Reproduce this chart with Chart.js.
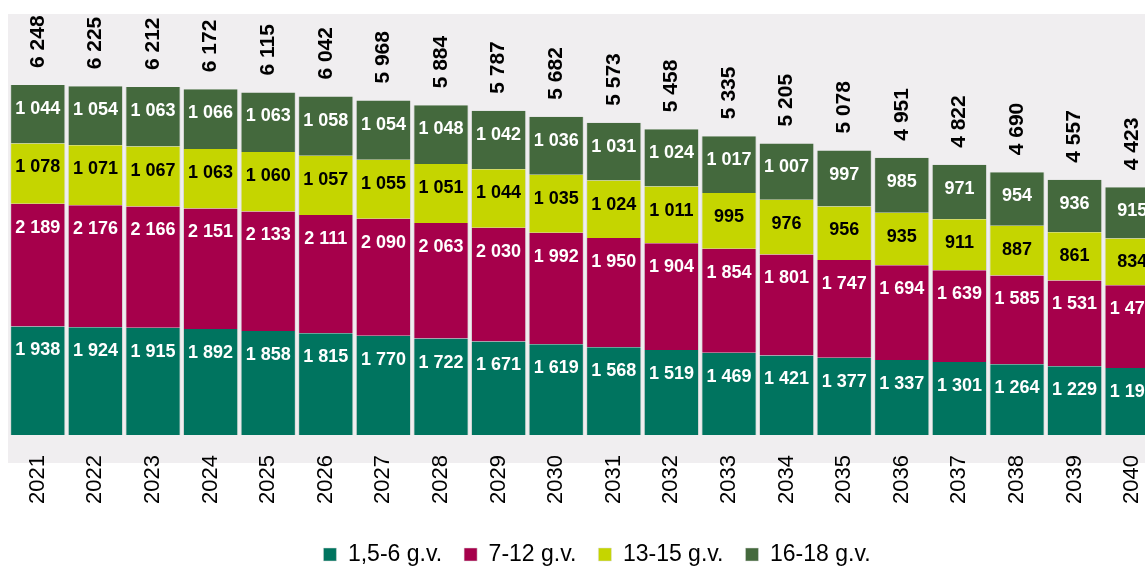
<!DOCTYPE html>
<html>
<head>
<meta charset="utf-8">
<script src="https://cdn.jsdelivr.net/npm/chart.js@4"></script>
<style>
  html, body { margin: 0; padding: 0; background: #fff; overflow: hidden; }
  #wrap { width: 1195px; height: 576px; position: relative; }
</style>
</head>
<body>
<div id="wrap"><canvas id="chart"></canvas></div>
<script>
const years = ['2021', '2022', '2023', '2024', '2025', '2026', '2027', '2028', '2029', '2030',
               '2031', '2032', '2033', '2034', '2035', '2036', '2037', '2038', '2039', '2040'];
const age1to6 = [1938, 1924, 1915, 1892, 1858, 1815, 1770, 1722, 1671, 1619,
                 1568, 1519, 1469, 1421, 1377, 1337, 1301, 1264, 1229, 1195];
const age7to12 = [2189, 2176, 2166, 2151, 2133, 2111, 2090, 2063, 2030, 1992,
                  1950, 1904, 1854, 1801, 1747, 1694, 1639, 1585, 1531, 1479];
const age13to15 = [1078, 1071, 1067, 1063, 1060, 1057, 1055, 1051, 1044, 1035,
                   1024, 1011, 995, 976, 956, 935, 911, 887, 861, 834];
const age16to18 = [1044, 1054, 1063, 1066, 1063, 1058, 1054, 1048, 1042, 1036,
                   1031, 1024, 1017, 1007, 997, 985, 971, 954, 936, 915];
const totals = [6248, 6225, 6212, 6172, 6115, 6042, 5968, 5884, 5787, 5682,
                5573, 5458, 5335, 5205, 5078, 4951, 4822, 4690, 4557, 4423];

const FONT = '"Liberation Sans", Arial, sans-serif';

const fmt = v => String(v).replace(/\B(?=(\d{3})+(?!\d))/g, ' ');

// grey plot backdrop
const backdrop = {
    id: 'backdrop',
    beforeDraw(chart) {
        const { ctx, chartArea } = chart;
        ctx.save();
        ctx.fillStyle = '#f0eef0';
        ctx.fillRect(chartArea.left - 1, 14, chart.width, chartArea.bottom + 28 - 14);
        ctx.restore();
    },
};

// the original legend sits a bit right of the plot centre
const legendShift = {
    id: 'legendShift',
    afterLayout(chart) {
        chart.legend.left += 12;
        chart.legend.right += 12;
    },
};

// segment values near the top of each segment, totals rotated above the bars
const valueLabels = {
    id: 'valueLabels',
    afterDatasetsDraw(chart) {
        const { ctx } = chart;
        ctx.save();
        ctx.textAlign = 'center';
        ctx.textBaseline = 'middle';
        ctx.font = 'bold 18px ' + FONT;
        chart.data.datasets.forEach((ds, i) => {
            chart.getDatasetMeta(i).data.forEach((bar, j) => {
                ctx.fillStyle = ds.labelColor;
                ctx.fillText(fmt(ds.data[j]), bar.x, bar.y + 24);
            });
        });

        const top = chart.getDatasetMeta(chart.data.datasets.length - 1).data;
        ctx.font = 'bold 21px ' + FONT;
        ctx.fillStyle = '#000';
        ctx.textAlign = 'left';
        top.forEach((bar, j) => {
            ctx.save();
            ctx.translate(bar.x, bar.y - 17);
            ctx.rotate(-Math.PI / 2);
            ctx.fillText(fmt(totals[j]), 0, 0);
            ctx.restore();
        });
        ctx.restore();
    },
};

const barBorder = { left: 1, right: 1, top: 0, bottom: 0 };

new Chart(document.getElementById('chart'), {
    type: 'bar',
    data: {
        labels: years,
        datasets: [
            { label: '1,5-6 g.v.', data: age1to6, backgroundColor: '#00745f', labelColor: '#fff' },
            { label: '7-12 g.v.', data: age7to12, backgroundColor: '#a6004b', labelColor: '#fff' },
            { label: '13-15 g.v.', data: age13to15, backgroundColor: '#c5d500', labelColor: '#000' },
            { label: '16-18 g.v.', data: age16to18, backgroundColor: '#44693d', labelColor: '#fff' },
        ].map(ds => ({
            ...ds,
            borderColor: '#dadada',
            borderWidth: barBorder,
            borderSkipped: false,
            barPercentage: 0.96,
            categoryPercentage: 1,
        })),
    },
    options: {
        responsive: true,
        maintainAspectRatio: false,
        animation: false,
        layout: { padding: { left: 9, right: 34, top: 14, bottom: 0 } },
        scales: {
            x: {
                stacked: true,
                grid: { display: false },
                border: { display: false },
                afterFit(scale) { scale.height = 86; },
                ticks: {
                    color: '#000',
                    font: { family: FONT, size: 22 },
                    minRotation: 90,
                    maxRotation: 90,
                    padding: 12,
                    autoSkip: false,
                },
            },
            y: {
                stacked: true,
                display: false,
                min: 0,
                max: 7515,
            },
        },
        plugins: {
            legend: {
                position: 'bottom',
                labels: {
                    color: '#000',
                    font: { family: FONT, size: 23 },
                    boxWidth: 13,
                    boxHeight: 13,
                    padding: 22,
                },
            },
            tooltip: { enabled: false },
        },
    },
    plugins: [backdrop, legendShift, valueLabels],
});
</script>
</body>
</html>
